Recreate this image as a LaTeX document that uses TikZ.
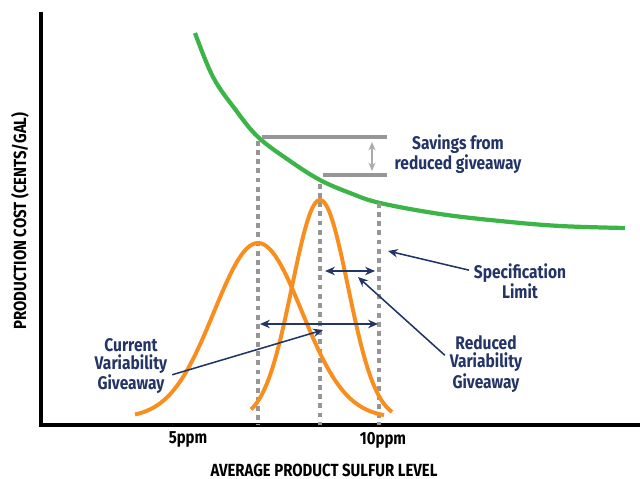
\documentclass[tikz,border=0pt]{standalone}
\usepackage{fontspec}
\setmainfont{Fira Sans}
\newfontfamily\condfont{Fira Sans}[FakeStretch=0.85]
\usetikzlibrary{arrows.meta}
\definecolor{curvegreen}{RGB}{60,180,72}
\definecolor{bellorange}{RGB}{247,142,30}
\definecolor{navyblue}{RGB}{35,52,102}
\definecolor{dotgrey}{RGB}{150,150,150}

\begin{document}
\begin{tikzpicture}[x=0.025cm, y=-0.025cm, line join=round,
    callout/.style={font=\condfont\bfseries\fontsize{13}{12.8}\selectfont, text=navyblue, align=center},
    tick label/.style={font=\condfont\bfseries\fontsize{12.5}{13}\selectfont},
    axis title/.style={font=\condfont\bfseries\fontsize{12.5}{13}\selectfont, inner sep=1pt},
    spec line/.style={dotgrey, line width=3pt, dash pattern=on 3.5pt off 3pt},
    saving line/.style={dotgrey, line width=2.3pt},
    bell/.style={bellorange, line width=2.8pt},
    pointer/.style={navyblue, line width=1.1pt, -{Stealth[length=7pt, width=6pt]}},
    span/.style={navyblue, line width=1.1pt, {Stealth[length=7pt, width=6pt]}-{Stealth[length=7pt, width=6pt]}}]

    \useasboundingbox (0,0) rectangle (640,479);

    % axes
    \coordinate (ytop) at (41,12);
    \coordinate (origin) at (41,425);
    \coordinate (xend) at (640,425);
    \draw[line width=2.4pt, line join=miter] (ytop) -- (origin) -- (xend);

    \node[tick label] (five) at (188,440) {5ppm};
    \node[tick label] (ten) at (383,440) {10ppm};
    \node[axis title] (xtitle) at (324,470) {AVERAGE PRODUCT SULFUR LEVEL};
    \node[axis title, rotate=90] (ytitle) at (20,221) {PRODUCTION COST (CENTS/GAL)};

    % cost curve
    \draw[curvegreen, line width=3pt] plot[smooth, tension=0.6] coordinates {
        (195,33) (213,77) (235,109) (258,137) (290,161) (320,180) (350,193)
        (380,203) (440,214) (500,221) (560,226) (625,228)};

    % savings
    \coordinate (high start) at (262,137);
    \coordinate (high end) at (387,137);
    \coordinate (low start) at (323,175);
    \coordinate (low end) at (387,175);
    \draw[saving line] (high start) -- (high end);
    \draw[saving line] (low start) -- (low end);
    \coordinate (gap top) at (372,142);
    \coordinate (gap bottom) at (372,171);
    \draw[dotgrey!80, line width=1pt, {Stealth[length=6pt, width=5pt]}-{Stealth[length=6pt, width=5pt]}] (gap top) -- (gap bottom);
    \node[callout] (savings) at (458,154) {Savings from\\reduced giveaway};

    % levels
    \draw[spec line] (258,141) -- (258,425);
    \draw[spec line] (320,184) -- (320,425);
    \draw[spec line] (379,203) -- (379,425);

    % distributions
    \draw[bell] plot[domain=135:384, samples=90, smooth]
        (\x, {418-175*exp(-0.5*((\x-258)/44)*((\x-258)/44))});
    \draw[bell] plot[domain=251:392, samples=80, smooth]
        (\x, {420-220*exp(-0.5*((\x-320)/28)*((\x-320)/28))});

    % giveaway spans
    \coordinate (wide left) at (260,324);
    \coordinate (wide right) at (378,324);
    \coordinate (narrow left) at (325,271);
    \coordinate (narrow right) at (375,271);
    \draw[span] (wide left) -- (wide right);
    \draw[span] (narrow left) -- (narrow right);

    \node[callout] (spec) at (520,281) {Specification\\Limit};
    \node[callout] (current) at (131,366) {Current\\Variability\\Giveaway};
    \node[callout] (reduced) at (486,364) {Reduced\\Variability\\Giveaway};

    \coordinate (spec tip) at (388,251);
    \coordinate (current tip) at (323,330);
    \coordinate (reduced tip) at (358,277);
    \draw[pointer] (spec.168) -- (spec tip);
    \draw[pointer] (current.-12) -- (current tip);
    \draw[pointer] (reduced.168) -- (reduced tip);
\end{tikzpicture}
\end{document}
